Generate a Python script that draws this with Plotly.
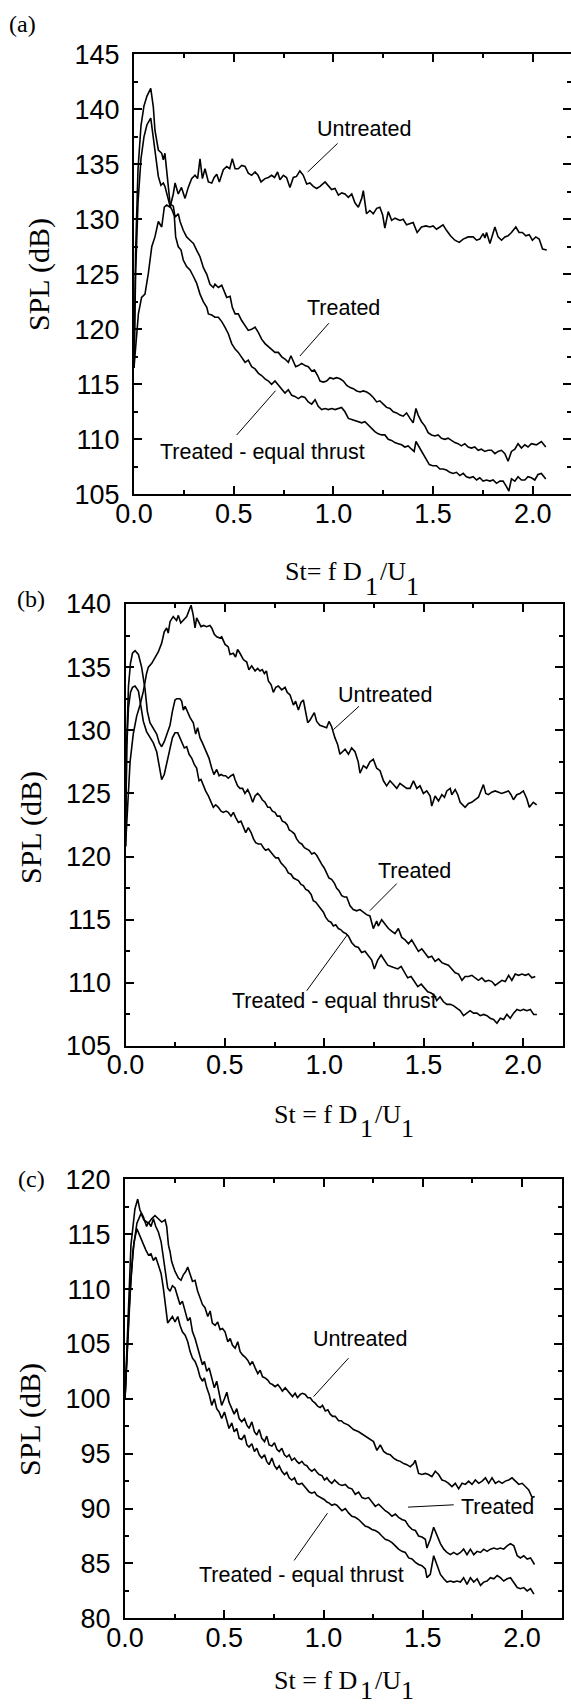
import plotly.graph_objects as go

# ---------------- data ----------------
# Panel (a)
A_UNT_X = [0, 0.022, 0.038, 0.055, 0.072, 0.089, 0.105, 0.122, 0.139, 0.152, 0.164, 0.181, 0.197, 0.206, 0.222, 0.238, 0.256, 0.272, 0.289, 0.306, 0.319, 0.331, 0.343, 0.356, 0.373, 0.390, 0.402, 0.415, 0.428, 0.448, 0.465, 0.480, 0.493, 0.507, 0.523, 0.540, 0.557, 0.573, 0.590, 0.607, 0.622, 0.637, 0.657, 0.674, 0.690, 0.705, 0.720, 0.732, 0.749, 0.765, 0.782, 0.799, 0.815, 0.832, 0.849, 0.866, 0.882, 0.899, 0.916, 0.933, 0.958, 0.975, 0.991, 1.008, 1.025, 1.042, 1.058, 1.075, 1.092, 1.108, 1.125, 1.142, 1.150, 1.166, 1.183, 1.200, 1.217, 1.233, 1.247, 1.258, 1.275, 1.292, 1.309, 1.334, 1.350, 1.367, 1.384, 1.400, 1.420, 1.442, 1.464, 1.484, 1.500, 1.517, 1.534, 1.550, 1.567, 1.587, 1.609, 1.631, 1.651, 1.676, 1.701, 1.718, 1.734, 1.751, 1.760, 1.768, 1.785, 1.810, 1.826, 1.843, 1.860, 1.876, 1.893, 1.915, 1.931, 1.948, 1.965, 1.982, 1.998, 2.015, 2.032, 2.049, 2.070]
A_UNT_Y = [116.5, 121.4, 122.9, 123.2, 125.1, 127.5, 128.4, 129.8, 129.3, 131.1, 131.3, 131.1, 132.3, 133.3, 132.3, 132.9, 131.9, 132.9, 133.7, 134.0, 133.7, 135.5, 133.7, 134.6, 133.4, 133.3, 133.8, 134.1, 133.4, 134.5, 134.8, 134.6, 135.5, 134.6, 134.6, 134.9, 134.8, 134.2, 134.0, 134.3, 134.0, 133.4, 133.7, 133.8, 134.0, 133.8, 134.3, 133.6, 134.0, 133.8, 132.9, 133.8, 133.9, 134.4, 134.0, 133.2, 133.3, 133.0, 132.8, 133.0, 133.4, 133.0, 132.7, 132.8, 132.2, 132.4, 132.3, 132.0, 132.3, 131.5, 131.1, 131.9, 132.6, 130.5, 130.8, 130.5, 131.0, 131.1, 130.4, 129.2, 130.7, 129.9, 130.1, 129.9, 130.0, 129.5, 129.6, 129.7, 128.8, 129.3, 129.4, 129.3, 129.4, 129.1, 129.3, 129.5, 129.0, 128.5, 128.1, 127.9, 128.2, 128.4, 128.4, 128.1, 128.2, 128.7, 128.3, 128.8, 127.8, 129.3, 128.4, 128.1, 128.4, 128.5, 128.8, 129.3, 128.8, 128.8, 128.5, 128.6, 128.1, 128.4, 128.2, 127.3, 127.2]

A_TRE_X = [0, 0.008, 0.020, 0.035, 0.050, 0.065, 0.084, 0.097, 0.105, 0.114, 0.122, 0.139, 0.147, 0.155, 0.164, 0.172, 0.181, 0.197, 0.206, 0.222, 0.231, 0.247, 0.264, 0.281, 0.298, 0.314, 0.331, 0.348, 0.365, 0.381, 0.398, 0.406, 0.423, 0.440, 0.456, 0.465, 0.482, 0.493, 0.507, 0.523, 0.540, 0.557, 0.573, 0.590, 0.607, 0.624, 0.640, 0.657, 0.674, 0.690, 0.707, 0.724, 0.741, 0.757, 0.774, 0.787, 0.799, 0.811, 0.824, 0.841, 0.858, 0.874, 0.891, 0.905, 0.921, 0.933, 0.950, 0.966, 0.983, 1.000, 1.016, 1.033, 1.050, 1.067, 1.084, 1.100, 1.117, 1.134, 1.150, 1.167, 1.183, 1.200, 1.217, 1.233, 1.250, 1.267, 1.284, 1.300, 1.317, 1.334, 1.350, 1.367, 1.384, 1.400, 1.414, 1.425, 1.442, 1.459, 1.475, 1.492, 1.509, 1.525, 1.542, 1.559, 1.575, 1.592, 1.609, 1.625, 1.642, 1.659, 1.676, 1.692, 1.709, 1.726, 1.742, 1.759, 1.776, 1.793, 1.810, 1.826, 1.843, 1.860, 1.876, 1.893, 1.910, 1.926, 1.943, 1.960, 1.976, 1.993, 2.018, 2.043, 2.065]
A_TRE_Y = [116.5, 127.0, 134.5, 138.5, 140.3, 141.2, 141.9, 140.2, 138.1, 136.9, 136.3, 136.0, 135.4, 136.0, 134.2, 132.6, 131.4, 131.2, 130.2, 130.5, 129.8, 129.0, 128.4, 128.1, 127.8, 127.2, 126.6, 125.6, 125.0, 124.1, 123.8, 124.1, 123.8, 124.0, 123.2, 122.9, 123.0, 122.0, 121.4, 121.4, 120.8, 120.3, 119.9, 120.0, 120.2, 119.7, 119.1, 118.7, 118.4, 118.2, 117.9, 117.9, 117.5, 117.3, 117.0, 117.6, 117.0, 116.6, 116.7, 116.9, 116.7, 116.6, 116.2, 116.3, 115.8, 115.3, 115.2, 115.3, 115.6, 115.5, 115.6, 115.5, 115.3, 114.9, 114.7, 114.6, 114.4, 114.3, 114.4, 114.3, 114.1, 113.8, 113.4, 113.5, 113.2, 112.9, 112.8, 112.5, 112.4, 112.2, 112.1, 112.4, 111.9, 111.5, 112.8, 112.2, 111.6, 111.2, 110.6, 110.4, 110.3, 110.4, 110.1, 110.0, 110.1, 109.9, 109.7, 109.6, 109.4, 109.6, 109.3, 109.2, 109.3, 109.0, 109.1, 108.9, 109.0, 109.0, 108.7, 108.9, 109.0, 108.7, 108.0, 108.9, 109.1, 109.6, 109.2, 109.5, 109.3, 109.6, 109.5, 109.8, 109.3]

A_EQT_X = [0, 0.008, 0.020, 0.035, 0.050, 0.065, 0.084, 0.097, 0.109, 0.122, 0.135, 0.147, 0.155, 0.169, 0.181, 0.192, 0.202, 0.209, 0.222, 0.236, 0.247, 0.264, 0.281, 0.298, 0.314, 0.331, 0.348, 0.365, 0.373, 0.390, 0.406, 0.423, 0.440, 0.456, 0.473, 0.490, 0.507, 0.523, 0.540, 0.557, 0.573, 0.590, 0.607, 0.624, 0.640, 0.657, 0.674, 0.690, 0.707, 0.724, 0.741, 0.757, 0.774, 0.791, 0.807, 0.824, 0.841, 0.857, 0.874, 0.891, 0.908, 0.924, 0.941, 0.958, 0.975, 0.991, 1.008, 1.025, 1.041, 1.058, 1.075, 1.092, 1.108, 1.125, 1.142, 1.158, 1.175, 1.192, 1.208, 1.225, 1.242, 1.258, 1.275, 1.292, 1.308, 1.325, 1.342, 1.358, 1.375, 1.392, 1.405, 1.414, 1.431, 1.447, 1.464, 1.481, 1.498, 1.517, 1.534, 1.550, 1.567, 1.584, 1.600, 1.617, 1.634, 1.651, 1.667, 1.684, 1.701, 1.718, 1.734, 1.751, 1.768, 1.785, 1.801, 1.818, 1.835, 1.851, 1.868, 1.880, 1.893, 1.910, 1.926, 1.943, 1.960, 1.976, 1.993, 2.010, 2.026, 2.043, 2.065]
A_EQT_Y = [116.5, 125.0, 131.5, 135.5, 137.5, 138.6, 139.2, 137.5, 135.7, 133.9, 133.1, 133.3, 133.0, 132.1, 131.2, 130.8, 130.3, 128.4, 127.5, 127.2, 126.3, 125.7, 125.4, 124.8, 124.2, 123.2, 122.5, 122.0, 121.4, 121.3, 121.1, 121.1, 120.7, 120.2, 119.6, 118.7, 118.2, 117.9, 117.5, 117.0, 117.2, 116.6, 116.4, 116.0, 115.8, 115.5, 115.3, 115.0, 115.3, 114.9, 114.6, 114.2, 114.5, 114.0, 113.9, 113.7, 113.9, 113.8, 113.4, 113.2, 113.6, 113.0, 112.7, 112.8, 112.7, 112.8, 112.7, 112.8, 112.9, 112.5, 111.9, 111.8, 111.7, 111.6, 111.5, 111.6, 111.3, 111.0, 110.7, 110.5, 110.4, 110.4, 110.0, 109.9, 109.7, 109.6, 109.5, 109.3, 109.4, 109.1, 108.9, 109.8, 109.3, 108.8, 108.3, 107.7, 107.6, 107.6, 107.3, 107.3, 107.2, 107.0, 106.9, 107.0, 106.7, 106.9, 106.6, 106.5, 106.6, 106.3, 106.5, 106.2, 106.3, 106.2, 106.3, 106.0, 106.2, 106.2, 105.7, 105.3, 106.4, 106.2, 106.6, 106.3, 106.3, 106.6, 106.5, 106.3, 106.8, 106.9, 106.4]

# Panel (b)
B_UNT_X = [0, 0.010, 0.023, 0.039, 0.056, 0.073, 0.090, 0.106, 0.115, 0.132, 0.148, 0.165, 0.182, 0.195, 0.207, 0.215, 0.224, 0.240, 0.257, 0.266, 0.278, 0.291, 0.308, 0.320, 0.330, 0.341, 0.350, 0.358, 0.367, 0.380, 0.392, 0.408, 0.425, 0.434, 0.447, 0.459, 0.475, 0.484, 0.501, 0.517, 0.526, 0.542, 0.554, 0.564, 0.576, 0.593, 0.610, 0.621, 0.635, 0.652, 0.665, 0.677, 0.688, 0.699, 0.709, 0.719, 0.733, 0.744, 0.756, 0.769, 0.786, 0.803, 0.814, 0.828, 0.845, 0.856, 0.870, 0.883, 0.895, 0.907, 0.917, 0.928, 0.940, 0.950, 0.962, 0.978, 0.995, 1.012, 1.024, 1.037, 1.054, 1.067, 1.079, 1.093, 1.105, 1.122, 1.138, 1.155, 1.171, 1.180, 1.197, 1.213, 1.230, 1.247, 1.264, 1.281, 1.298, 1.314, 1.331, 1.348, 1.365, 1.381, 1.398, 1.415, 1.432, 1.449, 1.466, 1.482, 1.499, 1.516, 1.533, 1.541, 1.558, 1.575, 1.592, 1.605, 1.617, 1.634, 1.642, 1.659, 1.672, 1.684, 1.709, 1.726, 1.742, 1.759, 1.776, 1.801, 1.813, 1.826, 1.843, 1.860, 1.876, 1.893, 1.910, 1.927, 1.940, 1.952, 1.969, 1.985, 2.002, 2.019, 2.032, 2.052, 2.069]
B_UNT_Y = [120.8, 123.5, 127.5, 129.7, 131.1, 132.0, 133.1, 134.5, 135.0, 135.3, 135.8, 136.2, 136.9, 137.8, 138.1, 137.7, 138.6, 139.0, 138.7, 139.1, 138.5, 138.7, 139.0, 139.5, 139.9, 139.1, 138.1, 138.9, 138.6, 138.2, 138.3, 138.2, 138.3, 138.1, 137.6, 137.4, 137.3, 137.4, 136.8, 136.6, 136.0, 136.1, 135.8, 136.4, 136.1, 135.6, 135.4, 134.8, 135.1, 134.7, 134.9, 134.7, 134.8, 134.5, 134.7, 133.9, 133.6, 133.0, 133.4, 133.5, 133.2, 133.4, 133.0, 132.8, 132.0, 132.3, 131.6, 132.2, 132.4, 131.4, 130.6, 130.8, 131.1, 131.4, 130.7, 130.4, 130.3, 130.2, 130.7, 130.3, 129.4, 128.9, 128.1, 128.3, 128.5, 128.1, 128.6, 128.3, 127.5, 126.6, 127.2, 127.0, 127.5, 127.7, 127.0, 126.8, 126.0, 125.6, 126.0, 125.7, 125.4, 125.8, 125.6, 125.4, 125.4, 126.0, 125.4, 125.6, 125.0, 125.2, 124.8, 124.0, 124.8, 124.4, 124.9, 124.7, 125.2, 125.4, 124.9, 125.3, 124.9, 124.3, 123.9, 124.2, 124.3, 124.5, 124.7, 125.7, 125.0, 124.9, 125.1, 125.2, 125.1, 125.0, 125.1, 125.2, 124.9, 124.5, 124.9, 125.0, 125.2, 124.6, 123.9, 124.3, 124.1]

B_TRE_X = [0, 0.006, 0.015, 0.025, 0.035, 0.048, 0.065, 0.081, 0.098, 0.110, 0.123, 0.140, 0.157, 0.170, 0.182, 0.195, 0.207, 0.224, 0.236, 0.249, 0.258, 0.274, 0.283, 0.291, 0.300, 0.313, 0.325, 0.341, 0.353, 0.363, 0.375, 0.387, 0.397, 0.409, 0.420, 0.434, 0.445, 0.459, 0.471, 0.481, 0.492, 0.504, 0.517, 0.531, 0.543, 0.551, 0.564, 0.576, 0.589, 0.601, 0.615, 0.627, 0.640, 0.652, 0.665, 0.677, 0.688, 0.702, 0.716, 0.727, 0.739, 0.752, 0.764, 0.777, 0.789, 0.803, 0.814, 0.824, 0.836, 0.850, 0.861, 0.875, 0.887, 0.900, 0.912, 0.924, 0.937, 0.950, 0.962, 0.974, 0.987, 1.000, 1.012, 1.024, 1.037, 1.051, 1.062, 1.074, 1.088, 1.101, 1.113, 1.130, 1.146, 1.163, 1.180, 1.197, 1.213, 1.230, 1.247, 1.264, 1.272, 1.289, 1.306, 1.323, 1.339, 1.356, 1.373, 1.390, 1.407, 1.424, 1.440, 1.457, 1.474, 1.491, 1.508, 1.524, 1.541, 1.558, 1.575, 1.592, 1.608, 1.625, 1.642, 1.659, 1.676, 1.693, 1.709, 1.726, 1.743, 1.760, 1.776, 1.793, 1.810, 1.827, 1.844, 1.860, 1.877, 1.894, 1.911, 1.928, 1.944, 1.961, 1.978, 1.995, 2.012, 2.028, 2.045, 2.062]
B_TRE_Y = [120.8, 129.0, 133.5, 135.3, 136.1, 136.3, 136.0, 135.0, 133.3, 131.5, 130.6, 130.2, 129.7, 129.0, 128.7, 129.1, 129.7, 130.4, 131.5, 132.4, 132.5, 132.5, 132.3, 131.6, 131.9, 131.4, 131.0, 130.6, 129.7, 130.2, 129.4, 129.0, 128.6, 128.1, 127.8, 127.0, 126.5, 126.9, 126.4, 126.5, 126.4, 126.4, 126.2, 126.4, 126.5, 126.1, 125.6, 125.4, 125.4, 125.0, 125.3, 124.9, 124.3, 124.8, 125.0, 124.8, 124.5, 124.3, 123.9, 123.9, 123.6, 123.5, 123.2, 123.2, 122.8, 122.7, 122.5, 122.1, 122.0, 121.8, 121.4, 121.1, 121.0, 120.7, 120.6, 120.5, 120.2, 120.3, 120.1, 119.7, 119.4, 119.1, 118.7, 118.3, 118.2, 117.9, 117.5, 117.3, 116.9, 116.8, 116.8, 116.1, 115.8, 115.7, 115.8, 115.6, 115.4, 115.3, 114.3, 114.9, 114.5, 115.0, 114.6, 114.3, 114.1, 113.9, 114.3, 113.6, 113.4, 113.1, 113.4, 112.9, 112.5, 112.7, 112.3, 112.0, 112.1, 111.7, 111.9, 111.6, 111.5, 111.4, 111.1, 110.8, 110.7, 110.2, 110.5, 110.5, 110.6, 110.4, 110.2, 110.4, 110.1, 110.2, 110.1, 109.8, 110.0, 110.2, 110.1, 110.6, 110.2, 110.7, 110.6, 110.7, 110.6, 110.7, 110.4, 110.5]

B_EQT_X = [0, 0.006, 0.015, 0.025, 0.035, 0.048, 0.065, 0.078, 0.090, 0.106, 0.123, 0.140, 0.157, 0.170, 0.182, 0.195, 0.207, 0.224, 0.236, 0.249, 0.263, 0.274, 0.286, 0.296, 0.308, 0.320, 0.333, 0.346, 0.358, 0.370, 0.380, 0.392, 0.403, 0.417, 0.430, 0.442, 0.454, 0.467, 0.481, 0.492, 0.506, 0.517, 0.531, 0.543, 0.554, 0.568, 0.581, 0.593, 0.605, 0.618, 0.632, 0.644, 0.655, 0.668, 0.682, 0.694, 0.705, 0.719, 0.732, 0.744, 0.756, 0.769, 0.782, 0.794, 0.806, 0.819, 0.833, 0.845, 0.857, 0.870, 0.883, 0.895, 0.907, 0.920, 0.934, 0.945, 0.957, 0.970, 0.984, 0.996, 1.007, 1.021, 1.034, 1.046, 1.058, 1.071, 1.084, 1.096, 1.110, 1.122, 1.138, 1.155, 1.172, 1.188, 1.205, 1.222, 1.239, 1.252, 1.269, 1.286, 1.302, 1.319, 1.336, 1.353, 1.370, 1.387, 1.403, 1.420, 1.437, 1.454, 1.471, 1.488, 1.504, 1.521, 1.538, 1.555, 1.566, 1.583, 1.600, 1.617, 1.634, 1.650, 1.667, 1.684, 1.701, 1.718, 1.734, 1.751, 1.768, 1.785, 1.802, 1.819, 1.835, 1.852, 1.869, 1.886, 1.903, 1.919, 1.936, 1.953, 1.970, 1.987, 2.003, 2.020, 2.037, 2.054, 2.070]
B_EQT_Y = [120.8, 128.5, 131.8, 133.0, 133.4, 133.5, 133.1, 132.0, 130.7, 129.9, 129.4, 129.0, 128.3, 127.3, 126.1, 126.5, 127.3, 128.6, 129.4, 129.8, 129.8, 129.4, 128.9, 128.6, 128.7, 128.1, 127.8, 127.3, 127.0, 126.0, 126.1, 125.6, 125.2, 124.8, 124.4, 123.9, 124.1, 123.9, 123.6, 123.5, 123.6, 123.5, 123.2, 123.5, 123.1, 122.7, 122.8, 122.4, 121.9, 122.3, 121.9, 121.4, 121.1, 121.0, 121.0, 120.7, 120.5, 120.6, 120.3, 120.1, 119.9, 119.9, 119.5, 119.3, 119.1, 118.7, 118.6, 118.3, 118.2, 118.1, 117.8, 117.7, 117.4, 117.3, 117.0, 116.5, 116.4, 116.1, 115.8, 115.6, 115.2, 114.9, 114.8, 114.5, 114.6, 114.3, 114.2, 114.0, 113.9, 113.7, 113.2, 112.9, 112.8, 112.4, 112.5, 112.1, 111.8, 111.1, 111.8, 112.2, 111.8, 111.4, 111.3, 111.2, 111.1, 111.3, 110.8, 110.4, 110.5, 110.1, 109.7, 109.9, 109.6, 109.3, 109.2, 109.0, 108.6, 108.9, 108.5, 108.3, 108.3, 108.2, 108.0, 107.8, 107.4, 107.6, 107.8, 107.6, 107.6, 107.4, 107.5, 107.4, 107.2, 107.1, 106.8, 107.2, 107.1, 107.5, 107.2, 107.6, 107.9, 107.8, 107.9, 107.8, 107.9, 107.5, 107.5]

# Panel (c)
C_UNT_X = [0, 0.020, 0.040, 0.060, 0.081, 0.095, 0.118, 0.134, 0.151, 0.168, 0.185, 0.202, 0.210, 0.219, 0.227, 0.235, 0.252, 0.269, 0.282, 0.294, 0.306, 0.316, 0.328, 0.340, 0.353, 0.366, 0.378, 0.390, 0.403, 0.417, 0.429, 0.440, 0.454, 0.467, 0.479, 0.491, 0.504, 0.518, 0.530, 0.541, 0.555, 0.568, 0.580, 0.592, 0.605, 0.619, 0.630, 0.642, 0.656, 0.669, 0.681, 0.693, 0.706, 0.719, 0.731, 0.743, 0.756, 0.770, 0.782, 0.793, 0.807, 0.820, 0.832, 0.844, 0.857, 0.869, 0.883, 0.894, 0.908, 0.921, 0.933, 0.945, 0.958, 0.972, 0.983, 0.995, 1.009, 1.022, 1.034, 1.046, 1.059, 1.076, 1.090, 1.101, 1.126, 1.151, 1.177, 1.202, 1.227, 1.252, 1.269, 1.286, 1.303, 1.319, 1.336, 1.353, 1.370, 1.387, 1.404, 1.420, 1.437, 1.454, 1.462, 1.479, 1.496, 1.513, 1.529, 1.546, 1.563, 1.580, 1.597, 1.614, 1.630, 1.647, 1.664, 1.681, 1.698, 1.715, 1.731, 1.748, 1.765, 1.782, 1.799, 1.816, 1.832, 1.849, 1.866, 1.883, 1.900, 1.916, 1.933, 1.950, 1.967, 1.984, 2.001, 2.017, 2.034, 2.051, 2.064]
C_UNT_Y = [100.0, 108.0, 113.5, 116.0, 116.9, 116.3, 116.0, 116.4, 116.7, 116.4, 116.1, 116.3, 115.7, 114.0, 113.4, 112.5, 111.6, 111.0, 110.8, 111.3, 111.6, 112.0, 111.4, 110.7, 110.8, 109.8, 109.2, 108.6, 108.3, 107.5, 108.0, 106.9, 106.7, 107.0, 106.3, 106.4, 106.1, 105.2, 105.5, 104.9, 104.6, 105.2, 104.3, 104.0, 103.8, 103.5, 103.1, 103.4, 102.8, 102.3, 102.6, 102.0, 101.9, 101.7, 101.4, 101.3, 101.1, 101.3, 101.0, 100.7, 101.0, 100.7, 100.4, 100.2, 100.5, 100.1, 100.4, 100.5, 100.4, 100.1, 100.1, 99.8, 99.6, 99.3, 99.2, 99.4, 98.9, 99.0, 98.6, 98.4, 98.4, 98.0, 98.0, 97.8, 97.6, 97.2, 97.0, 96.7, 96.4, 96.1, 95.3, 95.8, 95.2, 95.0, 94.9, 94.6, 94.4, 94.3, 94.1, 94.0, 93.8, 94.1, 94.4, 93.2, 93.1, 93.2, 93.1, 92.9, 93.4, 93.1, 92.6, 92.5, 92.3, 92.0, 92.3, 91.8, 92.3, 92.2, 92.5, 92.2, 92.6, 92.3, 92.5, 92.8, 92.3, 92.8, 92.3, 92.5, 92.3, 92.5, 92.6, 92.8, 92.5, 92.2, 92.3, 92.0, 91.7, 91.0, 91.1]

C_TRE_X = [0, 0.015, 0.030, 0.050, 0.064, 0.075, 0.092, 0.109, 0.118, 0.131, 0.143, 0.155, 0.168, 0.182, 0.193, 0.205, 0.215, 0.227, 0.239, 0.252, 0.266, 0.277, 0.289, 0.303, 0.316, 0.328, 0.340, 0.353, 0.366, 0.378, 0.390, 0.400, 0.412, 0.424, 0.437, 0.450, 0.462, 0.474, 0.487, 0.501, 0.513, 0.524, 0.538, 0.550, 0.563, 0.575, 0.588, 0.602, 0.614, 0.625, 0.639, 0.652, 0.664, 0.676, 0.689, 0.703, 0.714, 0.726, 0.740, 0.753, 0.765, 0.777, 0.790, 0.803, 0.815, 0.827, 0.840, 0.854, 0.866, 0.877, 0.891, 0.904, 0.916, 0.928, 0.941, 0.955, 0.967, 0.978, 0.992, 1.005, 1.017, 1.029, 1.042, 1.056, 1.067, 1.079, 1.093, 1.110, 1.126, 1.143, 1.160, 1.177, 1.194, 1.210, 1.227, 1.244, 1.261, 1.278, 1.294, 1.311, 1.328, 1.345, 1.362, 1.378, 1.395, 1.412, 1.429, 1.446, 1.463, 1.479, 1.496, 1.513, 1.521, 1.538, 1.555, 1.572, 1.589, 1.606, 1.622, 1.639, 1.656, 1.673, 1.690, 1.706, 1.723, 1.740, 1.757, 1.774, 1.791, 1.807, 1.824, 1.841, 1.858, 1.875, 1.891, 1.908, 1.925, 1.942, 1.959, 1.976, 1.992, 2.009, 2.026, 2.043, 2.063]
C_TRE_Y = [100.0, 108.0, 114.0, 117.3, 118.2, 117.2, 116.6, 115.7, 116.1, 115.7, 116.4, 115.7, 115.2, 114.3, 112.8, 111.3, 110.1, 109.8, 110.3, 110.1, 109.3, 108.6, 108.9, 108.0, 107.1, 107.4, 106.1, 105.5, 104.6, 103.7, 103.1, 103.4, 102.5, 102.8, 101.9, 101.0, 101.6, 100.4, 99.4, 100.0, 100.6, 99.7, 99.1, 98.6, 99.1, 98.2, 97.9, 98.2, 97.6, 97.3, 97.9, 97.0, 96.7, 97.2, 96.4, 96.1, 96.6, 95.8, 95.7, 96.0, 95.4, 95.2, 95.5, 94.9, 94.7, 94.9, 94.4, 94.6, 94.3, 94.1, 94.3, 94.0, 93.9, 93.6, 93.4, 93.6, 93.3, 93.1, 93.0, 92.6, 92.8, 92.5, 92.3, 92.6, 92.4, 92.2, 92.1, 92.2, 91.9, 91.8, 91.3, 91.5, 91.0, 90.9, 91.0, 90.6, 90.2, 90.4, 90.1, 89.8, 89.6, 89.3, 89.5, 89.2, 89.0, 88.9, 88.4, 88.1, 88.0, 87.5, 87.4, 87.2, 86.4, 87.2, 88.3, 87.5, 86.8, 86.3, 86.0, 85.8, 86.0, 85.8, 86.0, 86.3, 85.8, 86.3, 85.8, 86.1, 86.0, 86.3, 86.1, 86.3, 86.4, 86.3, 86.4, 86.3, 86.6, 86.8, 86.6, 85.7, 85.5, 85.7, 85.4, 85.5, 84.9]

C_EQT_X = [0, 0.015, 0.030, 0.045, 0.060, 0.076, 0.092, 0.104, 0.118, 0.131, 0.143, 0.155, 0.168, 0.182, 0.193, 0.205, 0.215, 0.227, 0.239, 0.252, 0.266, 0.277, 0.289, 0.303, 0.316, 0.328, 0.340, 0.353, 0.366, 0.378, 0.390, 0.400, 0.412, 0.424, 0.437, 0.450, 0.462, 0.474, 0.487, 0.501, 0.513, 0.524, 0.538, 0.550, 0.563, 0.575, 0.588, 0.602, 0.614, 0.625, 0.639, 0.652, 0.664, 0.676, 0.689, 0.703, 0.714, 0.726, 0.740, 0.753, 0.765, 0.777, 0.790, 0.803, 0.815, 0.827, 0.840, 0.854, 0.866, 0.877, 0.891, 0.904, 0.916, 0.928, 0.941, 0.955, 0.967, 0.978, 0.992, 1.005, 1.017, 1.029, 1.042, 1.056, 1.067, 1.079, 1.093, 1.110, 1.126, 1.143, 1.160, 1.177, 1.194, 1.210, 1.227, 1.244, 1.261, 1.278, 1.294, 1.311, 1.328, 1.345, 1.362, 1.378, 1.395, 1.412, 1.429, 1.446, 1.463, 1.479, 1.496, 1.513, 1.521, 1.538, 1.555, 1.572, 1.589, 1.606, 1.622, 1.639, 1.656, 1.673, 1.690, 1.706, 1.723, 1.740, 1.757, 1.774, 1.791, 1.807, 1.824, 1.841, 1.858, 1.875, 1.891, 1.908, 1.925, 1.942, 1.959, 1.976, 1.992, 2.009, 2.026, 2.043, 2.060]
C_EQT_Y = [100.0, 106.0, 111.0, 114.2, 115.5, 114.8, 114.0, 113.6, 113.1, 113.2, 112.6, 112.9, 112.2, 111.4, 110.1, 108.5, 106.9, 107.2, 107.5, 107.0, 107.5, 106.7, 106.1, 105.8, 105.2, 104.3, 103.7, 103.4, 102.8, 102.0, 101.6, 101.9, 101.0, 100.4, 99.4, 100.0, 99.1, 98.8, 98.2, 98.8, 97.9, 97.3, 97.8, 97.0, 97.3, 96.4, 96.3, 96.7, 95.8, 95.6, 95.9, 95.2, 95.5, 94.9, 94.6, 94.9, 94.3, 94.0, 94.6, 93.9, 93.6, 93.9, 93.4, 93.1, 93.3, 92.8, 92.6, 92.8, 92.3, 92.2, 92.3, 92.0, 91.7, 91.5, 91.4, 91.5, 91.2, 91.1, 90.9, 90.8, 90.6, 90.5, 90.3, 90.4, 90.3, 90.1, 89.8, 90.0, 89.6, 89.3, 89.2, 89.0, 88.7, 88.4, 88.3, 88.1, 88.0, 87.8, 87.5, 87.2, 87.1, 86.9, 86.6, 86.3, 86.1, 86.0, 85.5, 85.4, 85.1, 84.9, 84.8, 84.5, 83.7, 84.0, 85.7, 84.8, 84.0, 83.6, 83.3, 83.4, 83.3, 83.4, 83.3, 83.7, 83.1, 83.7, 83.3, 83.6, 83.0, 83.3, 83.4, 83.7, 83.6, 83.9, 83.7, 83.4, 83.6, 83.7, 83.3, 82.8, 82.7, 82.8, 82.5, 82.7, 82.2]

# curve labels: (text, x, y) in data units, and leader lines (x0, y0, x1, y1)
A_LABELS = [("Untreated", 0.908, 138.25), ("Treated", 0.857, 121.9), ("Treated - equal thrust", 0.122, 108.8)]
A_LEADERS = [(1.021, 136.9, 0.871, 134.3), (0.977, 120.55, 0.832, 117.57), (0.710, 114.42, 0.515, 110.39)]
B_LABELS = [("Untreated", 1.058, 132.8), ("Treated", 1.259, 118.85), ("Treated - equal thrust", 0.526, 108.59)]
B_LEADERS = [(1.175, 131.9, 1.046, 130.05), (1.365, 117.86, 1.230, 115.72), (1.115, 113.78, 0.912, 109.38)]
C_LABELS = [("Untreated", 0.938, 105.45), ("Treated", 1.681, 90.18), ("Treated - equal thrust", 0.362, 83.96)]
C_LEADERS = [(1.126, 103.70, 0.950, 100.2), (1.426, 90.13, 1.656, 90.34), (1.020, 89.58, 0.852, 85.27)]

X_TICKS = [0, 0.5, 1.0, 1.5, 2.0]
X_TICKTEXT = ["0.0", "0.5", "1.0", "1.5", "2.0"]
X_MINOR = [0.25, 0.75, 1.25, 1.75]

# ---------------- layout helpers ----------------
W, H = 571, 1708
def fx(px):
    return px / W
def fy(py):
    return 1 - py / H

SANS = "Liberation Sans, Arial, Helvetica, sans-serif"
SERIF = "Liberation Serif, Times New Roman, Times, serif"

panels = [
    dict(curves=[(A_UNT_X, A_UNT_Y), (A_TRE_X, A_TRE_Y), (A_EQT_X, A_EQT_Y)],
         labels=A_LABELS, leaders=A_LEADERS,
         xd=(134, 571), yd=(54.3, 494.3), xr=[0, (571 - 134) / 199.4], yr=[105, 145],
         letter="(a)", letter_pos=(22, 24), ytitle_pos=(39, 274),
         xtitle_left="St= f D", xtitle_center=352.5, xtitle_y=572, sub_dy=14),
    dict(curves=[(B_UNT_X, B_UNT_Y), (B_TRE_X, B_TRE_Y), (B_EQT_X, B_EQT_Y)],
         labels=B_LABELS, leaders=B_LEADERS,
         xd=(125.5, 562.7), yd=(604, 1046), xr=[0, 2.2], yr=[105, 140],
         letter="(b)", letter_pos=(31, 599), ytitle_pos=(31, 828),
         xtitle_left="St = f D", xtitle_center=344, xtitle_y=1114, sub_dy=14),
    dict(curves=[(C_UNT_X, C_UNT_Y), (C_TRE_X, C_TRE_Y), (C_EQT_X, C_EQT_Y)],
         labels=C_LABELS, leaders=C_LEADERS,
         xd=(125, 561.7), yd=(1179.3, 1618.3), xr=[0, 2.2], yr=[80, 120],
         letter="(c)", letter_pos=(31, 1179), ytitle_pos=(30, 1420),
         xtitle_left="St = f D", xtitle_center=343.5, xtitle_y=1680, sub_dy=10),
]

fig = go.Figure()
annotations = []
shapes = []

common = dict(showline=True, linecolor="black", linewidth=2, mirror="ticks",
              ticks="inside", ticklen=8, tickwidth=1.5, tickcolor="black",
              showgrid=False, zeroline=False, automargin=False,
              tickfont=dict(family=SANS, size=27, color="black"))

TFS = 26  # x-title font size
for i, p in enumerate(panels):
    sfx = "" if i == 0 else str(i + 1)
    xa, ya = "x" + sfx, "y" + sfx
    for xs, ys in p["curves"]:
        fig.add_trace(go.Scatter(x=xs, y=ys, mode="lines",
                                 line=dict(color="black", width=1.6),
                                 xaxis=xa, yaxis=ya, showlegend=False, hoverinfo="skip"))
    lo, hi = p["yr"]
    yt = list(range(lo, hi + 1, 5))
    ym = [v + 2.5 for v in yt[:-1]]
    fig.layout["xaxis" + sfx] = dict(
        domain=[fx(p["xd"][0]), fx(p["xd"][1])], range=p["xr"], anchor=ya,
        tickvals=X_TICKS, ticktext=X_TICKTEXT, ticklabelstandoff=-6,
        minor=dict(tickvals=X_MINOR, ticks="inside", ticklen=4, tickwidth=1.5, tickcolor="black"),
        **common)
    fig.layout["yaxis" + sfx] = dict(
        domain=[fy(p["yd"][1]), fy(p["yd"][0])], range=p["yr"], anchor=xa,
        tickvals=yt, ticktext=[str(v) for v in yt], ticklabelstandoff=7,
        minor=dict(tickvals=ym, ticks="inside", ticklen=4, tickwidth=1.5, tickcolor="black"),
        **common)
    for text, x, y in p["labels"]:
        annotations.append(dict(text=text, x=x, y=y, xref=xa, yref=ya, xanchor="left",
                                yanchor="middle", showarrow=False,
                                font=dict(family=SANS, size=21.5, color="black")))
    for x0, y0, x1, y1 in p["leaders"]:
        shapes.append(dict(type="line", xref=xa, yref=ya, x0=x0, y0=y0, x1=x1, y1=y1,
                           line=dict(color="black", width=1)))
    # panel letter
    lx, ly = p["letter_pos"]
    annotations.append(dict(text=p["letter"], x=fx(lx), y=fy(ly), xref="paper", yref="paper",
                            xanchor="center", yanchor="middle", showarrow=False,
                            font=dict(family=SERIF, size=24, color="black")))
    # y title
    tx, ty = p["ytitle_pos"]
    annotations.append(dict(text="SPL (dB)", x=fx(tx), y=fy(ty), xref="paper", yref="paper",
                            xanchor="center", yanchor="middle", textangle=-90, showarrow=False,
                            font=dict(family=SERIF, size=30, color="black")))
    # x title: "St= f D" + sub 1 + "/U" + sub 1
    left_w = (2.953 if " =" not in p["xtitle_left"] else 3.203) * TFS
    total = left_w + 0.5 * TFS + 1 + 1.0 * TFS + 0.5 * TFS
    start = p["xtitle_center"] - total / 2
    d_end = start + left_w
    cy = p["xtitle_y"]
    sy = cy + p["sub_dy"]
    tf = dict(family=SERIF, size=TFS, color="black")
    annotations.append(dict(text=p["xtitle_left"], x=fx(d_end), y=fy(cy), xref="paper", yref="paper",
                            xanchor="right", yanchor="middle", showarrow=False, font=tf))
    annotations.append(dict(text="1", x=fx(d_end + 0.25 * TFS + 1), y=fy(sy), xref="paper", yref="paper",
                            xanchor="center", yanchor="middle", showarrow=False, font=tf))
    slash = d_end + 0.5 * TFS + 1
    annotations.append(dict(text="/U", x=fx(slash), y=fy(cy), xref="paper", yref="paper",
                            xanchor="left", yanchor="middle", showarrow=False, font=tf))
    annotations.append(dict(text="1", x=fx(slash + 1.0 * TFS + 0.25 * TFS + 2), y=fy(sy), xref="paper", yref="paper",
                            xanchor="center", yanchor="middle", showarrow=False, font=tf))

fig.update_layout(width=W, height=H, autosize=False,
                  margin=dict(l=0, r=0, t=0, b=0, pad=0, autoexpand=False),
                  paper_bgcolor="white", plot_bgcolor="white",
                  annotations=annotations, shapes=shapes, showlegend=False)

fig.write_html("out.html", config={"displayModeBar": False})
